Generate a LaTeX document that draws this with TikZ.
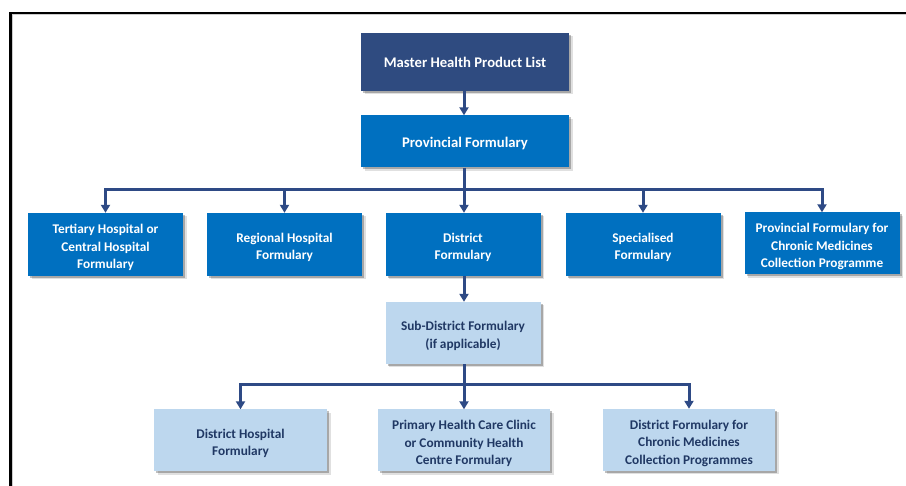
\documentclass[tikz,border=0pt]{standalone}
\usepackage{fontspec}
\setmainfont{Carlito}
\usetikzlibrary{arrows.meta,shadows}
\definecolor{navy}{HTML}{2F4B80}
\definecolor{midblue}{HTML}{0070C0}
\definecolor{lightblue}{HTML}{BDD7EE}
\definecolor{darktext}{HTML}{203864}
\definecolor{linecol}{HTML}{2E4A85}
\newcommand\tstrut{\rule{0pt}{1.15em}}
\tikzset{
  box/.style={rectangle, inner sep=0pt, align=center, font=\bfseries\fontsize{13.3}{17.5}\selectfont,
    drop shadow={shadow xshift=3.5pt, shadow yshift=-3.5pt, fill=black, opacity=0.12},
    drop shadow={shadow xshift=2pt, shadow yshift=-2pt, fill=black, opacity=0.25}},
  topbox/.style={box, font=\bfseries\fontsize{14.7}{18}\selectfont, minimum width=208pt, text=white},
  bluebox/.style={box, fill=midblue, text=white},
  lightbox/.style={box, fill=lightblue, text=darktext},
  conn/.style={draw=linecol, line width=3pt, line join=miter},
  arr/.style={conn, -{Triangle[width=9pt,length=8pt]}}
}
\begin{document}
\begin{tikzpicture}[x=1pt,y=-1pt]
\useasboundingbox (0,0) rectangle (906,486);
\fill[white] (0,0) rectangle (906,486);
\draw[black, line width=2.2pt] (10.5,486) -- (10.5,13) -- (906,13);
\draw[black!20, line width=1pt] (12.5,486) -- (12.5,15) -- (906,15);

\node[topbox, fill=navy, minimum height=58pt] (master) at (465,62) {Master Health Product List};
\node[topbox, fill=midblue, minimum height=52pt] (prov) at (465,141.5) {\rule{0pt}{0.95em}Provincial Formulary};

\node[bluebox, minimum width=155pt, minimum height=63pt] (tert) at (105.5,244.5) {\tstrut Tertiary Hospital or\\Central Hospital\\Formulary};
\node[bluebox, minimum width=155pt, minimum height=63pt] (reg) at (284.5,244.5) {\tstrut Regional Hospital\\Formulary};
\node[bluebox, minimum width=155pt, minimum height=63pt] (dist) at (463,244.5) {\tstrut District\\Formulary};
\node[bluebox, minimum width=155pt, minimum height=63pt] (spec) at (643,244.5) {\tstrut Specialised\\Formulary};
\node[bluebox, minimum width=155pt, minimum height=62pt] (pchron) at (822,243.5) {\tstrut Provincial Formulary for\\Chronic Medicines\\Collection Programme};

\node[lightbox, minimum width=155pt, minimum height=62pt] (sub) at (463,333) {\tstrut Sub-District Formulary\\(if applicable)};

\node[lightbox, minimum width=173pt, minimum height=62pt] (dhosp) at (240.5,440.5) {\tstrut District Hospital\\Formulary};
\node[lightbox, minimum width=172pt, minimum height=62pt] (phc) at (464,440.5) {\tstrut Primary Health Care Clinic\\or Community Health\\Centre Formulary};
\node[lightbox, minimum width=172pt, minimum height=62pt] (dchron) at (689,440) {\tstrut District Formulary for\\Chronic Medicines\\Collection Programmes};

\coordinate (bus1) at (464,190);
\coordinate (bus2) at (464,385);

\draw[arr] (master.south -| bus1) -- (prov.north -| bus1);
\draw[conn] (prov.south -| bus1) -- (bus1);
\draw[arr] (bus1) -| (tert.north);
\draw[arr] (bus1) -| (reg.north);
\draw[arr] (bus1) -- (dist.north -| bus1);
\draw[arr] (bus1) -| (spec.north);
\draw[arr] (bus1) -| (pchron.north);

\draw[arr] (dist.south -| bus1) -- (sub.north -| bus1);
\draw[conn] (sub.south -| bus2) -- (bus2);
\draw[arr] (bus2) -| (dhosp.north);
\draw[arr] (bus2) -- (phc.north -| bus2);
\draw[arr] (bus2) -| (dchron.north);
\end{tikzpicture}
\end{document}
